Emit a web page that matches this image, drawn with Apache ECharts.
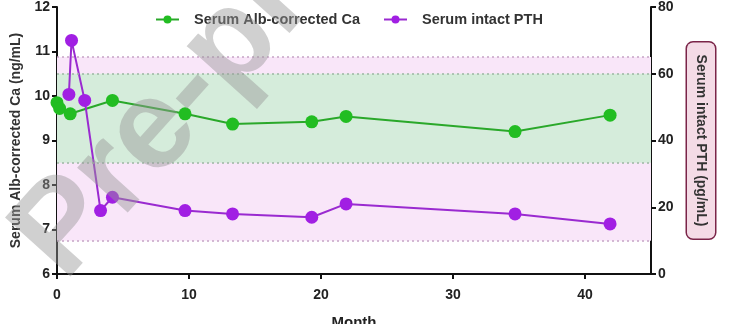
<!DOCTYPE html>
<html>
<head>
<meta charset="utf-8">
<script src="https://cdn.jsdelivr.net/npm/echarts@6/dist/echarts.min.js"></script>
<style>
  html, body { margin: 0; padding: 0; background: #ffffff; }
  #chart { width: 738px; height: 324px; }
</style>
</head>
<body>
<div id="chart"></div>
<script>
// Follow-up months at each calcium measurement and the values (ng/mL)
const caMonths = [0, 0.2, 1, 4.2, 9.7, 13.3, 19.3, 21.9, 34.7, 41.9];
const caValues = [9.85, 9.72, 9.6, 9.9, 9.6, 9.37, 9.42, 9.54, 9.2, 9.57];

// Follow-up months at each intact PTH measurement and the values (pg/mL)
const pthMonths = [0.9, 1.1, 2.1, 3.3, 4.2, 9.7, 13.3, 19.3, 21.9, 34.7, 41.9];
const pthValues = [53.8, 70, 52, 19, 23, 19, 18, 17, 21, 18, 15];

// Reference ranges
const caRange = [8.5, 10.5];
const pthRange = [10, 65];

const seriesNames = ['Serum Alb-corrected Ca', 'Serum intact PTH'];
const xTicks = { min: 0, max: 45, interval: 10 };
const caTicks = { min: 6, max: 12, interval: 1 };
const pthTicks = { min: 0, max: 80, interval: 20 };

const FONT = 'Arial, "Liberation Sans", sans-serif';
const GREEN = '#22bd22';
const PURPLE = '#a11fe3';

const toPairs = (xs, ys) => xs.map((x, i) => [x, ys[i]]);

const axisCommon = {
  axisLine: { show: true, lineStyle: { color: '#111', width: 2 } },
  axisTick: { show: true, length: 5, lineStyle: { color: '#111', width: 2 } },
  axisLabel: { color: '#222', fontSize: 14, fontWeight: 'bold', fontFamily: FONT, margin: 7 },
  splitLine: { show: false }
};

const chart = echarts.init(document.getElementById('chart'), null, { renderer: 'canvas' });

chart.setOption({
  animation: false,
  backgroundColor: '#ffffff',
  grid: { left: 57, right: 87, top: 7, bottom: 50, containLabel: false, outerBoundsMode: 'none' },
  legend: {
    data: seriesNames,
    top: 7,
    left: 150,
    itemWidth: 23,
    itemHeight: 10,
    itemGap: 23,
    textStyle: {
      color: '#333', fontSize: 14.5, fontWeight: 'bold', fontFamily: FONT,
      padding: [0, 0, 0, 10]
    }
  },
  xAxis: Object.assign({}, axisCommon, {
    type: 'value',
    min: xTicks.min, max: xTicks.max, interval: xTicks.interval,
    name: 'Month',
    nameLocation: 'middle',
    nameGap: 41,
    nameTextStyle: { color: '#222', fontSize: 15, fontWeight: 'bold', fontFamily: FONT },
    axisLabel: Object.assign({}, axisCommon.axisLabel, { margin: 14, showMaxLabel: false })
  }),
  yAxis: [
    Object.assign({}, axisCommon, {
      type: 'value',
      min: caTicks.min, max: caTicks.max, interval: caTicks.interval,
      name: 'Serum Alb-corrected Ca (ng/mL)',
      nameLocation: 'middle',
      nameGap: 32,
      nameRotate: 90,
      nameTextStyle: { color: '#333', fontSize: 14, fontWeight: 'bold', fontFamily: FONT }
    }),
    Object.assign({}, axisCommon, {
      type: 'value',
      position: 'right',
      min: pthTicks.min, max: pthTicks.max, interval: pthTicks.interval,
      name: 'Serum intact PTH (pg/mL)',
      nameLocation: 'middle',
      nameGap: 36,
      nameRotate: -90,
      nameTextStyle: {
        color: '#333', fontSize: 14, fontWeight: 'bold', fontFamily: FONT,
        backgroundColor: '#f4dbe6',
        borderColor: '#7a2448',
        borderWidth: 1.5,
        borderRadius: 6,
        padding: [7, 12, 7, 12]
      }
    })
  ],
  series: [
    {
      name: seriesNames[1],
      type: 'line',
      yAxisIndex: 1,
      data: toPairs(pthMonths, pthValues),
      symbol: 'circle',
      symbolSize: 13,
      itemStyle: { color: PURPLE },
      lineStyle: { color: '#9a2ad0', width: 2 },
      z: 3,
      markArea: {
        silent: true,
        itemStyle: { color: '#f9e6f9' },
        data: [[{ yAxis: pthRange[0] }, { yAxis: pthRange[1] }]]
      },
      markLine: {
        silent: true,
        symbol: 'none',
        label: { show: false },
        lineStyle: { color: '#c6a4c6', type: [2, 3], width: 1.5 },
        data: [{ yAxis: pthRange[0] }, { yAxis: pthRange[1] }]
      }
    },
    {
      name: seriesNames[0],
      type: 'line',
      yAxisIndex: 0,
      data: toPairs(caMonths, caValues),
      symbol: 'circle',
      symbolSize: 13,
      itemStyle: { color: GREEN },
      lineStyle: { color: '#2aa82a', width: 2 },
      z: 2,
      markArea: {
        silent: true,
        itemStyle: { color: '#d5ecdb' },
        data: [[{ yAxis: caRange[0] }, { yAxis: caRange[1] }]]
      },
      markLine: {
        silent: true,
        symbol: 'none',
        label: { show: false },
        lineStyle: { color: '#9cb8a2', type: [2, 3], width: 1.5 },
        data: [{ yAxis: caRange[0] }, { yAxis: caRange[1] }]
      }
    }
  ],
  graphic: [
    {
      type: 'text',
      left: 391,
      top: 188,
      style: { text: 'PTH', fill: '#5a1a1a', fontSize: 11, fontFamily: FONT }
    },
    {
      type: 'text',
      x: 86,
      y: 302,
      rotation: 48 * Math.PI / 180,
      z: 100,
      silent: true,
      style: {
        text: 'Pre-proof',
        fill: 'rgba(150,150,150,0.45)',
        fontSize: 128,
        fontWeight: 'bold',
        fontFamily: FONT,
        verticalAlign: 'bottom'
      }
    }
  ]
});
</script>
</body>
</html>
